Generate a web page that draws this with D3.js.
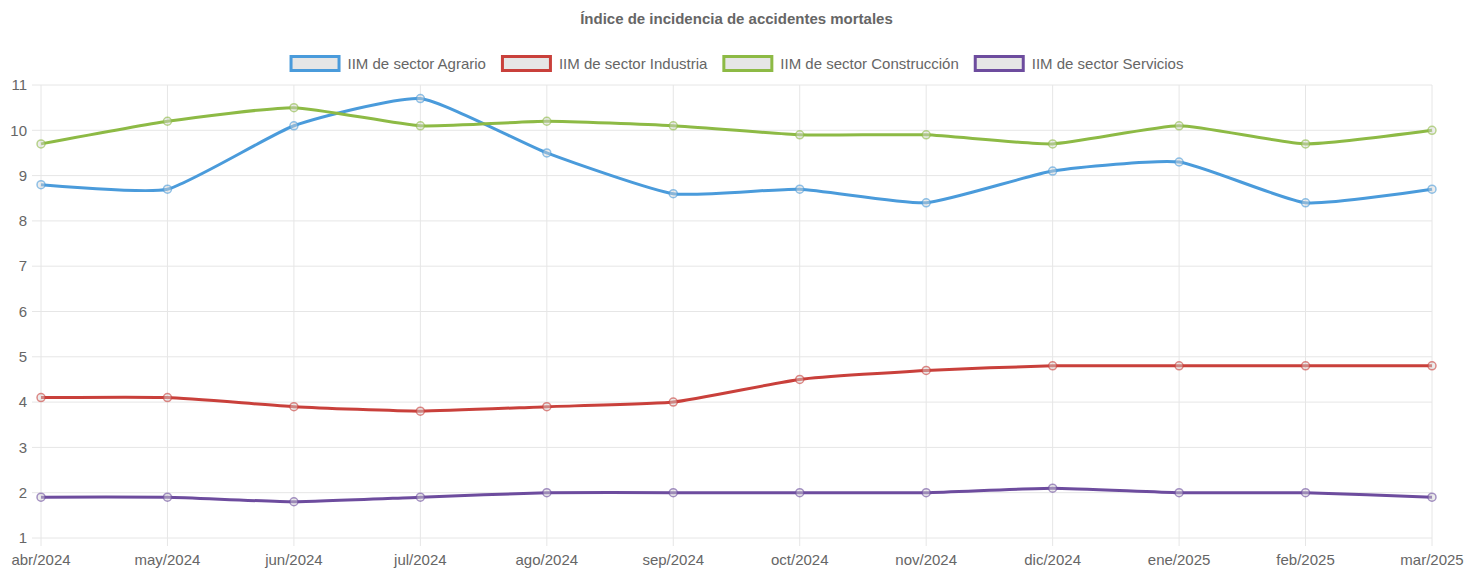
<!DOCTYPE html>
<html>
<head>
<meta charset="utf-8">
<script src="https://cdn.jsdelivr.net/npm/d3@7"></script>
<style>
  body { margin: 0; background: #fff; }
  svg text { font-family: "Liberation Sans", Arial, sans-serif; }
</style>
</head>
<body>
<div id="chart"></div>
<script>
var months = ["abr/2024", "may/2024", "jun/2024", "jul/2024", "ago/2024", "sep/2024",
  "oct/2024", "nov/2024", "dic/2024", "ene/2025", "feb/2025", "mar/2025"];
var agrario = [8.8, 8.7, 10.1, 10.7, 9.5, 8.6, 8.7, 8.4, 9.1, 9.3, 8.4, 8.7];
var industria = [4.1, 4.1, 3.9, 3.8, 3.9, 4.0, 4.5, 4.7, 4.8, 4.8, 4.8, 4.8];
var construccion = [9.7, 10.2, 10.5, 10.1, 10.2, 10.1, 9.9, 9.9, 9.7, 10.1, 9.7, 10.0];
var servicios = [1.9, 1.9, 1.8, 1.9, 2.0, 2.0, 2.0, 2.0, 2.1, 2.0, 2.0, 1.9];
var yTicks = [1, 2, 3, 4, 5, 6, 7, 8, 9, 10, 11];

var series = [
  { name: "IIM de sector Agrario", values: agrario, color: "#4a9bdb" },
  { name: "IIM de sector Industria", values: industria, color: "#c9403b" },
  { name: "IIM de sector Construcción", values: construccion, color: "#8dba45" },
  { name: "IIM de sector Servicios", values: servicios, color: "#6d4c9e" }
];

window.onload = function () {
  var w = 1469, h = 569;
  var left = 41, right = 1432, top = 85, bottom = 538;

  var svg = d3.select("#chart").append("svg")
    .attr("width", w)
    .attr("height", h);

  var x = d3.scalePoint().domain(months).range([left, right]);
  var y = d3.scaleLinear().domain([1, 11]).range([bottom, top]);

  // grid
  var grid = svg.append("g");
  grid.selectAll("line.h").data(yTicks).enter().append("line")
    .attr("x1", left - 9).attr("x2", right)
    .attr("y1", function (d) { return y(d); })
    .attr("y2", function (d) { return y(d); })
    .attr("stroke", "#e6e6e6").attr("stroke-width", 1);
  grid.selectAll("line.v").data(months).enter().append("line")
    .attr("x1", function (d) { return x(d); })
    .attr("x2", function (d) { return x(d); })
    .attr("y1", top).attr("y2", bottom + 8)
    .attr("stroke", "#e6e6e6").attr("stroke-width", 1);

  // y labels
  svg.append("g").selectAll("text").data(yTicks).enter().append("text")
    .attr("x", left - 14)
    .attr("y", function (d) { return y(d); })
    .attr("dy", "0.35em")
    .attr("text-anchor", "end")
    .attr("font-size", 15)
    .attr("fill", "#666")
    .text(function (d) { return d; });

  // x labels
  svg.append("g").selectAll("text").data(months).enter().append("text")
    .attr("x", function (d) { return x(d); })
    .attr("y", 560)
    .attr("dy", "0.35em")
    .attr("text-anchor", "middle")
    .attr("font-size", 15)
    .attr("fill", "#666")
    .text(function (d) { return d; });

  // title
  svg.append("text")
    .attr("x", (left + right) / 2).attr("y", 19)
    .attr("dy", "0.35em")
    .attr("text-anchor", "middle")
    .attr("font-size", 15)
    .attr("font-weight", "bold")
    .attr("fill", "#666")
    .text("Índice de incidencia de accidentes mortales");

  var line = d3.line()
    .x(function (d, i) { return x(months[i]); })
    .y(function (d) { return y(d); })
    .curve(d3.curveCardinal.tension(0.5));

  series.forEach(function (s) {
    var g = svg.append("g");
    g.append("path")
      .datum(s.values)
      .attr("d", line)
      .attr("fill", "none")
      .attr("stroke", s.color)
      .attr("stroke-width", 3);
    g.selectAll("circle").data(s.values).enter().append("circle")
      .attr("cx", function (d, i) { return x(months[i]); })
      .attr("cy", function (d) { return y(d); })
      .attr("r", 4)
      .attr("fill", "rgba(215,215,215,0.45)")
      .attr("stroke", s.color)
      .attr("stroke-opacity", 0.6)
      .attr("stroke-width", 1.5);
  });

  // legend
  var legend = svg.append("g");
  var items = legend.selectAll("g").data(series).enter().append("g");
  items.append("rect")
    .attr("x", 1.5).attr("width", 48).attr("height", 14)
    .attr("y", 56.5)
    .attr("fill", "#e6e6e6")
    .attr("stroke", function (d) { return d.color; })
    .attr("stroke-width", 3);
  items.append("text")
    .attr("x", 58).attr("y", 63.5)
    .attr("dy", "0.35em")
    .attr("font-size", 15)
    .attr("fill", "#666")
    .text(function (d) { return d.name; });

  var offsets = [], pos = 0;
  items.each(function () {
    var tw = d3.select(this).select("text").node().getComputedTextLength();
    offsets.push(pos);
    pos += 58 + tw + 15;
  });
  var total = pos - 15;
  var start = (left + right) / 2 - total / 2;
  items.attr("transform", function (d, i) { return "translate(" + (start + offsets[i]) + ",0)"; });
};
</script>
</body>
</html>
